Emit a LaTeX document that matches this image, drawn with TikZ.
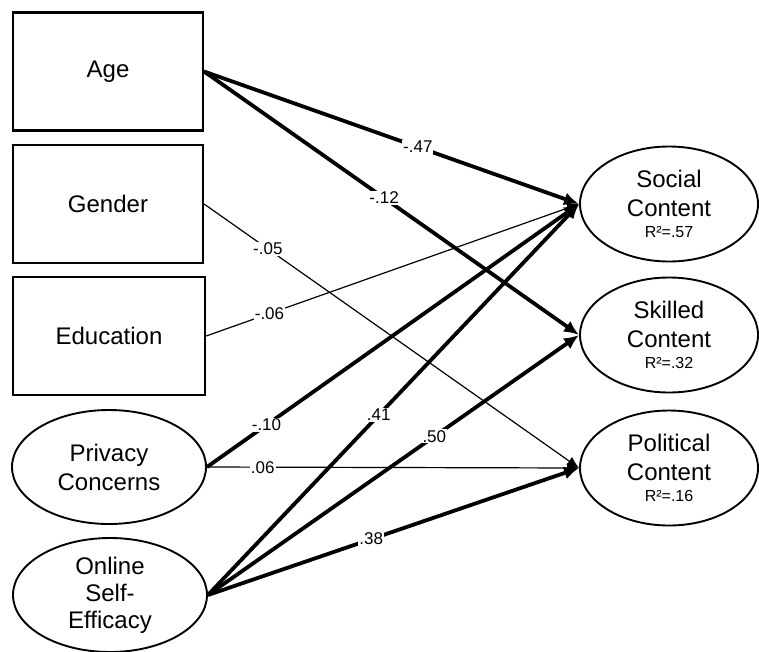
\documentclass[tikz,border=0pt]{standalone}
\usepackage{fontspec}
\setmainfont{Liberation Sans}
\usetikzlibrary{shapes.geometric,arrows.meta}

\begin{document}
\begin{tikzpicture}[x=1pt,y=-1pt,
	box/.style={
		draw, line width=2.2pt, minimum width=190pt, minimum height=118pt,
		align=center, font=\fontsize{24}{29}\selectfont
	},
	oval/.style={
		draw, ellipse, line width=1.9pt, inner sep=0pt,
		minimum width=194pt, minimum height=114pt,
		align=center, font=\fontsize{24}{29}\selectfont
	},
	dv/.style={oval, minimum width=178pt, minimum height=115pt},
	heavy/.style={line width=3.8pt, -{Latex[length=15pt,width=13pt]}},
	light/.style={line width=1.2pt, -{Latex[length=12pt,width=10pt]}},
	coef/.style={fill=white, inner sep=1pt, font=\fontsize{17}{19}\selectfont}
]
\useasboundingbox (0,0) rectangle (759,651);

\node[box] (age) at (108,71.5) {Age};
\node[box] (gen) at (108,204) {Gender};
\node[box, minimum width=192pt] (edu) at (109,336) {Education};
\node[oval] (pri) at (109,467) {Privacy\\Concerns};
\node[oval, font=\fontsize{24}{27}\selectfont] (onl) at (110,595) {Online\\Self-\\Efficacy};

\node[dv] (soc) at (669,204) {Social\\Content\\[-8pt]{\fontsize{16}{18}\selectfont R²=.57}};
\node[dv] (ski) at (669,335) {Skilled\\Content\\[-8pt]{\fontsize{16}{18}\selectfont R²=.32}};
\node[dv] (pol) at (669,468) {Political\\Content\\[-8pt]{\fontsize{16}{18}\selectfont R²=.16}};

\foreach \s/\t/\p/\v in {gen/pol/.17/-.05, edu/soc/.17/-.06, pri/pol/.15/.06} {
	\draw[light] (\s.east) -- (\t.west) node[coef, pos=\p] {\v};
}
\foreach \s/\t/\p/\v in {age/soc/.57/-.47, age/ski/.48/-.12, pri/soc/.16/-.10,
	onl/soc/.46/.41, onl/ski/.61/.50, onl/pol/.44/.38} {
	\draw[heavy] (\s.east) -- (\t.west) node[coef, pos=\p] {\v};
}
\end{tikzpicture}
\end{document}
